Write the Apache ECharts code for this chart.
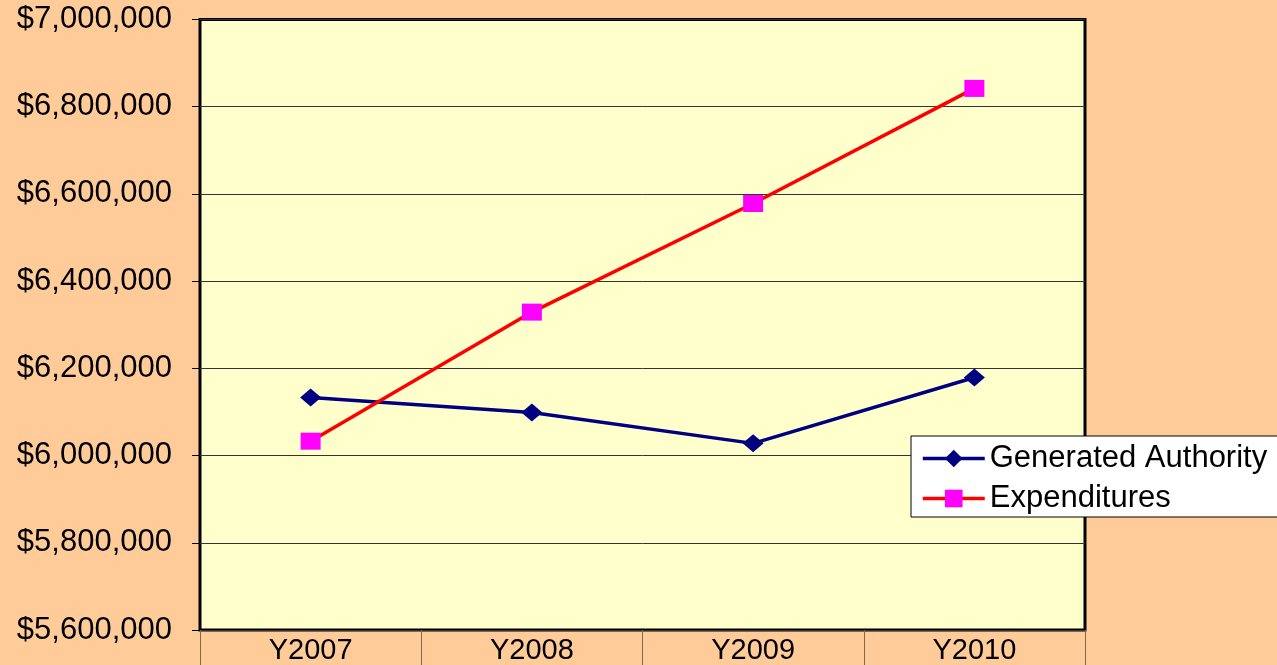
<!DOCTYPE html>
<html>
<head>
<meta charset="utf-8">
<script src="https://cdn.jsdelivr.net/npm/echarts@6/dist/echarts.min.js"></script>
<style>
html,body{margin:0;padding:0;background:#FFCC99;}
#main{width:1277px;height:665px;}
</style>
</head>
<body>
<div id="main"></div>
<script>
// 年份
var years = ['Y2007', 'Y2008', 'Y2009', 'Y2010'];
// Generated Authority
var generated = [6133000, 6099000, 6028000, 6179000];
// Expenditures
var expenditures = [6033000, 6329000, 6578000, 6842000];
// y轴范围
var yMin = 5600000;
var yMax = 7000000;
var yStep = 200000;

function money(v) {
	return '$' + String(v).replace(/\B(?=(\d{3})+(?!\d))/g, ',');
}

var myChart = echarts.init(document.getElementById('main'));
var option = {
	backgroundColor: '#FFCC99',
	textStyle: {fontFamily: 'Liberation Sans'},
	animation: false,
	grid: {
		left: 200,
		right: 192,
		top: 19.5,
		bottom: 35,
		show: true,
		backgroundColor: '#FFFFCC',
		borderColor: '#000',
		borderWidth: 3
	},
	legend: {
		orient: 'vertical',
		left: 911,
		top: 436,
		backgroundColor: '#fff',
		borderColor: '#000',
		borderWidth: 1,
		borderRadius: 0,
		padding: [7, 20, 3, 10],
		itemWidth: 62,
		itemHeight: 22,
		itemGap: 9,
		lineStyle: {width: 3.5},
		textStyle: {color: '#000', fontSize: 31, lineHeight: 30, fontFamily: 'Liberation Sans'},
		data: ['Generated Authority', 'Expenditures']
	},
	xAxis: {
		type: 'category',
		data: years,
		boundaryGap: true,
		axisLine: {show: false},
		axisTick: {show: true, interval: 0, length: 35, lineStyle: {color: '#806650', width: 1}},
		axisLabel: {color: '#000', fontSize: 29, margin: 6, interval: 0},
		splitLine: {show: false}
	},
	yAxis: {
		type: 'value',
		min: yMin,
		max: yMax,
		interval: yStep,
		axisLine: {show: false},
		axisTick: {show: true, length: 8, lineStyle: {color: '#000'}},
		axisLabel: {color: '#000', fontSize: 31, margin: 28, formatter: money},
		splitLine: {show: true, lineStyle: {color: '#333', width: 1}}
	},
	series: [
		{
			name: 'Generated Authority',
			type: 'line',
			data: generated,
			symbol: 'diamond',
			symbolSize: [21, 18],
			lineStyle: {color: '#000080', width: 3.5},
			itemStyle: {color: '#000080'}
		},
		{
			name: 'Expenditures',
			type: 'line',
			data: expenditures,
			symbol: 'rect',
			symbolSize: [20, 17],
			lineStyle: {color: '#FF0000', width: 3.5},
			itemStyle: {color: '#FF00FF'}
		}
	]
};
myChart.setOption(option);
</script>
</body>
</html>
